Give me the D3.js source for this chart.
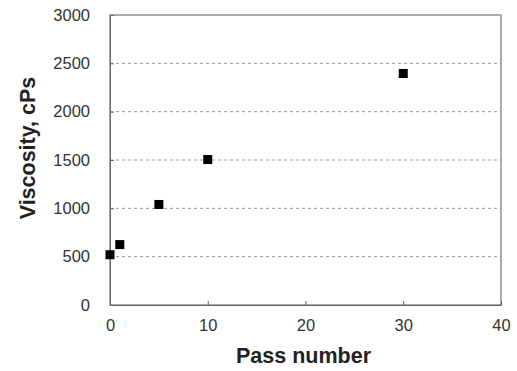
<!DOCTYPE html>
<html>
<head>
<meta charset="utf-8">
<script src="https://cdn.jsdelivr.net/npm/d3@7"></script>
<style>
  body { margin: 0; background: #fff; }
  text { font-family: "Liberation Sans", Arial, sans-serif; }
</style>
</head>
<body>
<div id="chart"></div>
<script>
const passes = [0, 1, 5, 10, 30];
const viscosity = [520, 625, 1040, 1505, 2395];
const xTicks = [0, 10, 20, 30, 40];
const yTicks = [0, 500, 1000, 1500, 2000, 2500, 3000];

const W = 517, H = 371;
const margin = {top: 15, right: 16, bottom: 66, left: 110};
const width = W - margin.left - margin.right;
const height = H - margin.top - margin.bottom;

const svg = d3.select('#chart')
  .append('svg')
    .attr('width', W)
    .attr('height', H)
  .append('g')
    .attr('transform', 'translate(' + margin.left + ',' + margin.top + ')');

const x = d3.scaleLinear().domain([0, 40]).range([0, width]);
const y = d3.scaleLinear().domain([0, 3000]).range([height, 0]);

// dashed grid
svg.append('g')
  .selectAll('line')
  .data(yTicks.filter(d => d > 0 && d < 3000))
  .join('line')
    .attr('x1', 0)
    .attr('x2', width)
    .attr('y1', d => y(d))
    .attr('y2', d => y(d))
    .attr('stroke', '#999')
    .attr('stroke-width', 1)
    .attr('stroke-dasharray', '3,3');

// frame
svg.append('rect')
  .attr('width', width)
  .attr('height', height)
  .attr('fill', 'none')
  .attr('stroke', '#777')
  .attr('stroke-width', 1.2);

// axes
const xAxis = svg.append('g')
  .attr('transform', 'translate(0,' + height + ')')
  .call(d3.axisBottom(x).tickValues(xTicks).tickFormat(d3.format('d'))
    .tickSizeInner(-4).tickSizeOuter(0).tickPadding(14));
const yAxis = svg.append('g')
  .call(d3.axisLeft(y).tickValues(yTicks).tickFormat(d3.format('d'))
    .tickSizeInner(-4).tickSizeOuter(0).tickPadding(20));

[xAxis, yAxis].forEach(a => {
  a.select('.domain').attr('stroke', '#666');
  a.selectAll('.tick line').attr('stroke', '#666');
  a.selectAll('.tick text')
    .attr('fill', '#333')
    .style('font-size', '16.5px');
});

// points
svg.selectAll('rect.pt')
  .data(passes.map((p, i) => ({p, v: viscosity[i]})))
  .join('rect')
    .attr('class', 'pt')
    .attr('x', d => x(d.p) - 4.5)
    .attr('y', d => y(d.v) - 4.5)
    .attr('width', 9)
    .attr('height', 9)
    .attr('fill', '#000');

// axis titles
svg.append('text')
  .attr('x', width / 2 - 2)
  .attr('y', height + 58)
  .attr('text-anchor', 'middle')
  .style('font-size', '21.5px')
  .style('font-weight', 'bold')
  .attr('fill', '#222')
  .text('Pass number');

svg.append('text')
  .attr('transform', 'translate(' + (-75) + ',' + (height / 2 - 12) + ') rotate(-90)')
  .attr('text-anchor', 'middle')
  .style('font-size', '21.5px')
  .style('font-weight', 'bold')
  .attr('fill', '#222')
  .text('Viscosity, cPs');
</script>
</body>
</html>
